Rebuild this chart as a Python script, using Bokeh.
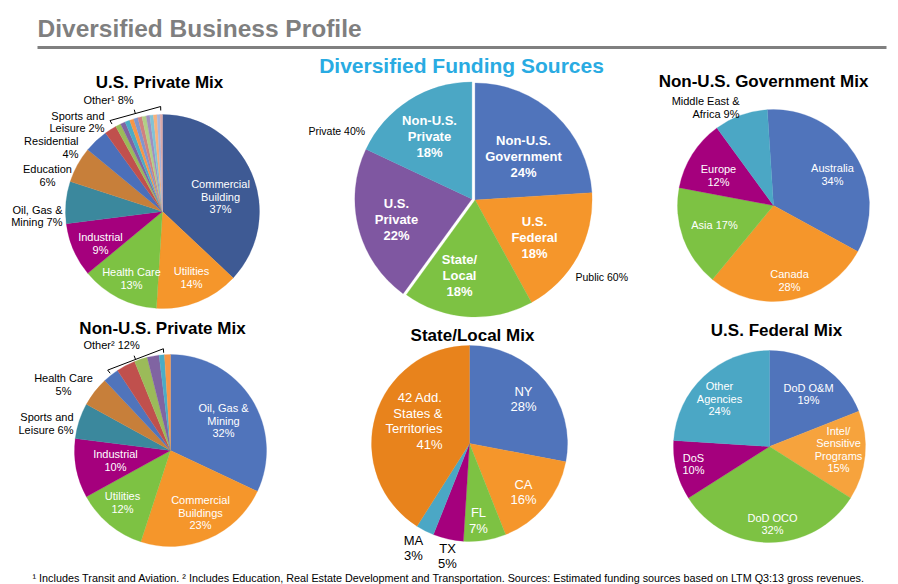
import numpy as np
from bokeh.plotting import figure
from bokeh.models import Range1d, ColumnDataSource
from bokeh.core.properties import value
from bokeh.embed import file_html
from bokeh.resources import INLINE

# ------------------------------------------------------------------ data
funding_labels = ["Non-U.S.\nGovernment\n{}%", "U.S.\nFederal\n{}%", "State/\nLocal\n{}%",
                  "U.S.\nPrivate\n{}%", "Non-U.S.\nPrivate\n{}%"]
funding_values = [24, 18, 18, 22, 18]
funding_groups = ["Public 60%", "Public 60%", "Public 60%", "Private 40%", "Private 40%"]

us_private_labels = ["Commercial\nBuilding\n{}%", "Utilities\n{}%", "Health Care\n{}%", "Industrial\n{}%",
                     "Oil, Gas &\nMining {}%", "Education\n{}%", "Residential\n{}%", "Sports and\nLeisure {}%"]
us_private_values = [37, 14, 13, 9, 7, 6, 4, 2]
us_private_other_label = "Other\u00b9 {}%"
us_private_other_values = [0.9, 0.8, 0.8, 0.7, 0.7, 0.7, 0.7, 0.6, 0.6, 0.6, 0.5, 0.4]

nonus_gov_labels = ["Australia\n{}%", "Canada\n{}%", "Asia {}%", "Europe\n{}%", "Middle East &\nAfrica {}%"]
nonus_gov_values = [34, 28, 17, 12, 9]

nonus_private_labels = ["Oil, Gas &\nMining\n{}%", "Commercial\nBuildings\n{}%", "Utilities\n{}%",
                        "Industrial\n{}%", "Sports and\nLeisure {}%", "Health Care\n{}%"]
nonus_private_values = [32, 23, 12, 10, 6, 5]
nonus_private_other_label = "Other\u00b2 {}%"
nonus_private_other_values = [2.7, 3.2, 2.2, 2.0, 0.9, 1.0]

state_local_labels = ["NY\n{}%", "CA\n{}%", "FL\n{}%", "TX\n{}%", "MA\n{}%",
                      "42 Add.\nStates &\nTerritories\n{}%"]
state_local_values = [28, 16, 7, 5, 3, 41]

us_federal_labels = ["DoD O&M\n{}%", "Intel/\nSensitive\nPrograms\n{}%", "DoD OCO\n{}%", "DoS\n{}%",
                     "Other\nAgencies\n{}%"]
us_federal_values = [19, 15, 32, 10, 24]

main_title = "Diversified Business Profile"
footnote = ("\u00b9 Includes Transit and Aviation. \u00b2 Includes Education, Real Estate Development and "
            "Transportation. Sources: Estimated funding sources based on LTM Q3:13 gross revenues.")

# ------------------------------------------------------------------ style / layout
W, H = 898, 584
FONT = "Liberation Sans"

BLUE = "#5074bb"
DKBLUE = "#3e5a94"
ORANGE = "#f5962b"
GREEN = "#7dc243"
MAGENTA = "#a5007d"
TEAL = "#4ba7c5"
PURPLE = "#7f57a1"
DKTEAL = "#3b889d"
BROWN = "#c77f3a"
RESBLUE = "#4b6fb9"
RED = "#c0504d"
DKORANGE = "#e8831c"
LTORANGE = "#f6a33d"
OTHER_COLS = ["#9bbb59", "#8064a2", "#4bacc6", "#f79646", "#7f97cf", "#d0817f",
              "#b2cf86", "#a08fc0", "#7fc3d6", "#f8b27c", "#a6b6dd", "#dba8a7"]

p = figure(width=W, height=H, x_range=Range1d(0, W), y_range=Range1d(0, H),
           output_backend="svg", toolbar_location=None, min_border=0)
p.axis.visible = False
p.grid.visible = False
p.outline_line_color = None
p.background_fill_color = "white"


def Y(y):
    return H - y


def text(x, y, s, size=11, color="black", bold=False, align="center", lh=None, font=FONT):
    lines = s.split("\n")
    lh = lh or size * 1.15
    n = len(lines)
    xs = [x] * n
    ys = [Y(y + (i - (n - 1) / 2) * lh) for i in range(n)]
    p.text(x=xs, y=ys, text=lines, text_font=value(font), text_font_size=f"{size}px",
           text_color=color, text_align=align, text_baseline="middle",
           text_font_style="bold" if bold else "normal")


def pie(values, colors, cx, cy, r, start=0.0, explode=None):
    vals = np.asarray(values, dtype=float)
    cum = np.concatenate([[0.0], np.cumsum(vals / vals.sum())]) * 360.0 + start
    xs = np.full(len(vals), float(cx))
    ys = np.full(len(vals), float(Y(cy)))
    if explode is not None:
        groups, d = explode
        for g in dict.fromkeys(groups):
            idx = [i for i, gg in enumerate(groups) if gg == g]
            mid = np.radians((cum[idx[0]] + cum[idx[-1] + 1]) / 2)
            xs[idx] += d * np.sin(mid)
            ys[idx] += d * np.cos(mid)
    src = ColumnDataSource(dict(x=xs, y=ys,
                                sa=np.radians(90 - cum[1:]), ea=np.radians(90 - cum[:-1]),
                                c=colors))
    p.wedge(x="x", y="y", radius=r, start_angle="sa", end_angle="ea", fill_color="c",
            line_color="c", line_width=0.3, source=src)
    return cum


def bracket(cx, cy, r, a0, a1, tick=4, up=4):
    a0r, a1r = np.radians(a0), np.radians(a1)
    x0, y0 = cx + r * np.sin(a0r), cy - r * np.cos(a0r)
    x1, y1 = cx + r * np.sin(a1r), cy - r * np.cos(a1r)
    t0 = (x0 - tick * np.sin(a0r), y0 + tick * np.cos(a0r))
    t1 = (x1 - tick * np.sin(a1r), y1 + tick * np.cos(a1r))
    mx, my = (x0 + x1) / 2, (y0 + y1) / 2
    am = np.radians((a0 + a1) / 2)
    m2 = (mx + up * np.sin(am), my - up * np.cos(am))
    p.multi_line(xs=[[t0[0], x0, x1, t1[0]], [mx, m2[0]]],
                 ys=[[Y(t0[1]), Y(y0), Y(y1), Y(t1[1])], [Y(my), Y(m2[1])]],
                 line_color="black", line_width=1)


def fmt(v):
    return f"{round(v):d}"


# ---------------- header
text(37, 28, main_title, size=24.5, color="#7f7f7f", bold=True, align="left")
p.segment(x0=[37], y0=[Y(47)], x1=[886], y1=[Y(47)], line_color="#808080", line_width=3)

# ---------------- funding (center top)
cx, cy, r = 473, 199, 117
pie(funding_values, [BLUE, ORANGE, GREEN, PURPLE, TEAL], cx, cy, r, explode=(funding_groups, 1.7))
text(461, 65, "Diversified Funding Sources", size=21, color="#29abe2", bold=True)
f_off = [(50, -43), (61, 38), (-14, 76), (-77, 20), (-44, -63)]
for lab, v, (dx, dy) in zip(funding_labels, funding_values, f_off):
    text(cx + dx, cy + dy, lab.format(fmt(v)), size=13, color="white", bold=True, lh=16)
text(308, 130, funding_groups[3], size=10.5, align="left")
text(575, 276, funding_groups[0], size=10.5, align="left")

# ---------------- U.S. Private Mix
cx, cy, r = 162, 211, 97
cols = [DKBLUE, ORANGE, GREEN, MAGENTA, DKTEAL, BROWN, RESBLUE, RED] + OTHER_COLS
pie(us_private_values + us_private_other_values, cols, cx, cy, r)
text(159, 82, "U.S. Private Mix", size=17, bold=True)
up_lay = [(58, -15, "white", "center"), (29, 66, "white", "center"), (-31, 67, "white", "center"),
          (-62, 32, "white", "center"), (-100, 4.5, "black", "right"), (-115, -36, "black", "center"),
          (-84, -64, "black", "right"), (-58, -89.5, "black", "right")]
for lab, v, (dx, dy, c, al) in zip(us_private_labels, us_private_values, up_lay):
    text(cx + dx, cy + dy, lab.format(fmt(v)), size=11, color=c, align=al, lh=12.5)
text(83, 99, us_private_other_label.format(fmt(sum(us_private_other_values))), size=11, align="left")
bracket(cx, cy, r + 8, 330, 359)

# ---------------- Non-U.S. Government Mix
cx, cy, r = 773, 205, 96
pie(nonus_gov_values, [BLUE, ORANGE, GREEN, MAGENTA, TEAL], cx, cy, r, start=-3.7)
text(763, 81, "Non-U.S. Government Mix", size=17, bold=True)
ng_lay = [(59, -31, "white", "center"), (16, 75, "white", "center"), (-59, 19, "white", "center"),
          (-55, -30, "white", "center"), (-34, -98, "black", "right")]
for lab, v, (dx, dy, c, al) in zip(nonus_gov_labels, nonus_gov_values, ng_lay):
    text(cx + dx, cy + dy, lab.format(fmt(v)), size=11, color=c, align=al, lh=12.5)

# ---------------- Non-U.S. Private Mix
cx, cy, r = 170, 450, 96
cols = [BLUE, ORANGE, GREEN, MAGENTA, DKTEAL, BROWN, BLUE, RED, "#9bbb59", "#8064a2", "#4bacc6", "#f79646"]
pie(nonus_private_values + nonus_private_other_values, cols, cx, cy, r)
text(162, 328, "Non-U.S. Private Mix", size=17, bold=True)
np_lay = [(53, -30, "white", "center"), (30, 62, "white", "center"), (-48, 52, "white", "center"),
          (-55, 10, "white", "center"), (-97, -27, "black", "right"), (-107, -66, "black", "center")]
for lab, v, (dx, dy, c, al) in zip(nonus_private_labels, nonus_private_values, np_lay):
    text(cx + dx, cy + dy, lab.format(fmt(v)), size=11, color=c, align=al, lh=12.5)
text(83, 344, nonus_private_other_label.format(fmt(sum(nonus_private_other_values))), size=11, align="left")
bracket(cx, cy, r + 6, 322, 356)

# ---------------- State/Local Mix
cx, cy, r = 469, 443, 98
pie(state_local_values, [BLUE, ORANGE, GREEN, MAGENTA, TEAL, DKORANGE], cx, cy, r)
text(472, 335, "State/Local Mix", size=17, bold=True)
sl_lay = [(54, -44.5, "white", "center"), (54, 48.5, "white", "center"), (9, 77, "white", "center"),
          (-22, 112.5, "black", "center"), (-56, 104.5, "black", "center"), (-27, -22.5, "white", "right")]
for lab, v, (dx, dy, c, al) in zip(state_local_labels, state_local_values, sl_lay):
    text(cx + dx, cy + dy, lab.format(fmt(v)), size=13, color=c, align=al, lh=15.7)

# ---------------- U.S. Federal Mix
cx, cy, r = 769, 446, 96
pie(us_federal_values, [BLUE, LTORANGE, GREEN, MAGENTA, TEAL], cx, cy, r)
text(776, 330, "U.S. Federal Mix", size=17, bold=True)
uf_lay = [(39, -52.5), (69, 3), (3, 77.5), (-76, 17.5), (-50, -48)]
for lab, v, (dx, dy) in zip(us_federal_labels, us_federal_values, uf_lay):
    text(cx + dx, cy + dy, lab.format(fmt(v)), size=11, color="white", lh=12.6)

# ---------------- footnote
text(32, 577, footnote, size=10.8, align="left")

open("out.html", "w").write(file_html(p, INLINE))
